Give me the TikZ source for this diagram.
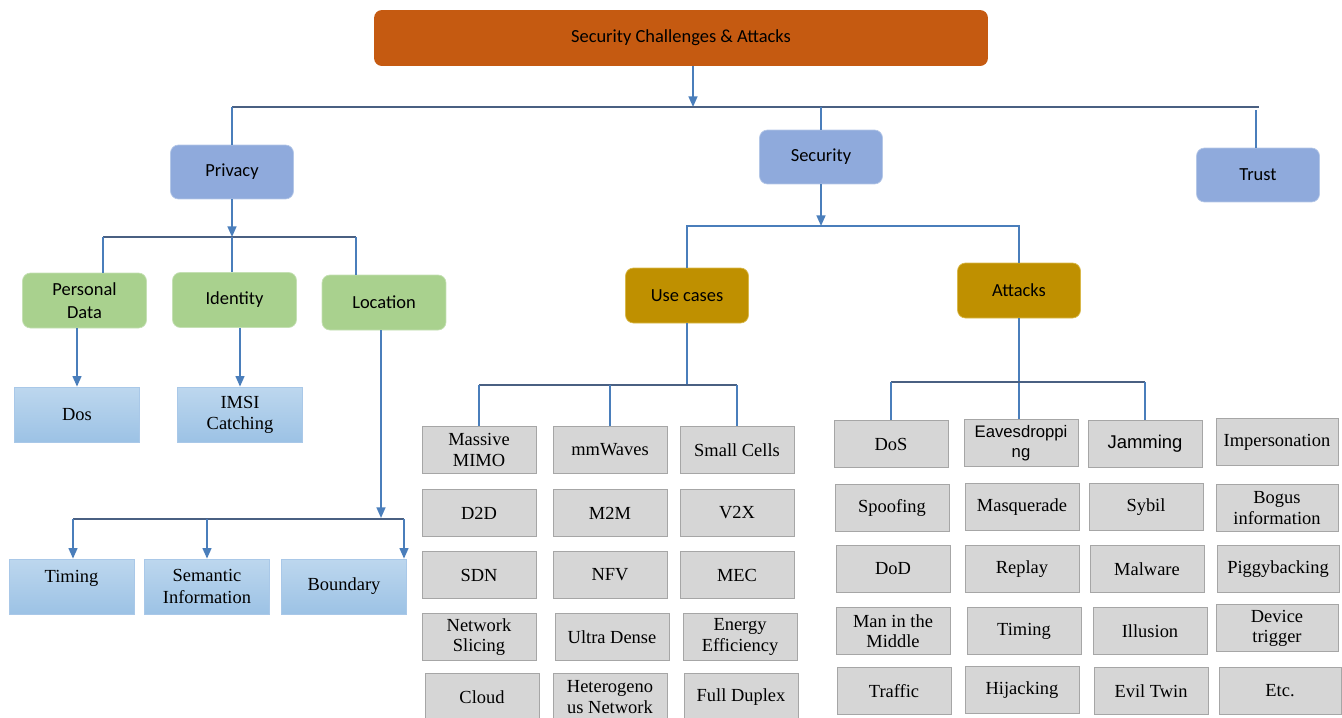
\documentclass[tikz,border=0pt]{standalone}
\usepackage{fontspec}
\setmainfont{Liberation Serif}
\newfontfamily\calib{Carlito}
\newfontfamily\arial{Liberation Sans}
\usetikzlibrary{arrows.meta}
\definecolor{rootorange}{HTML}{C55A11}
\definecolor{catblue}{HTML}{8FAADC}
\definecolor{catedge}{HTML}{B4C7E7}
\definecolor{subgreen}{HTML}{A9D18E}
\definecolor{subedge}{HTML}{C5E0B4}
\definecolor{gold}{HTML}{BF9000}
\definecolor{goldedge}{HTML}{D9B84A}
\definecolor{leaftop}{HTML}{BDD7EE}
\definecolor{leafbot}{HTML}{9CC2E5}
\definecolor{leafedge}{HTML}{A9C8E8}
\definecolor{cellgray}{HTML}{D6D6D6}
\definecolor{celledge}{HTML}{A6A6A6}
\definecolor{linkblue}{HTML}{4A7EBB}
\definecolor{bardark}{HTML}{4A6082}
\tikzset{
  conn/.style={draw=linkblue, line width=1pt},
  arr/.style={conn, -{Triangle[width=5pt,length=6pt]}},
  bar/.style={draw=bardark, line width=1pt},
}
\begin{document}
\begin{tikzpicture}[x=0.02cm, y=-0.02cm,
  every node/.style={align=center, inner sep=1pt},
  head/.style={fill=rootorange, rounded corners=4.5pt, minimum width=12.28cm, minimum height=1.12cm,
    font=\calib\fontsize{10.5}{12}\selectfont},
  cat/.style={fill=catblue, draw=catedge, rounded corners=4.5pt, minimum width=2.46cm, minimum height=1.08cm,
    font=\calib\fontsize{10.5}{12}\selectfont},
  sub/.style={fill=subgreen, draw=subedge, rounded corners=4.5pt, minimum width=2.48cm, minimum height=1.1cm,
    font=\calib\fontsize{10.5}{13}\selectfont},
  goldbox/.style={fill=gold, draw=goldedge, rounded corners=4.5pt, minimum width=2.46cm, minimum height=1.1cm,
    font=\calib\fontsize{10.5}{12}\selectfont},
  leaf/.style={top color=leaftop, bottom color=leafbot, draw=leafedge, minimum width=2.5cm, minimum height=1.1cm,
    font=\fontsize{10.5}{12}\selectfont},
  cell/.style={fill=cellgray, draw=celledge, minimum width=2.28cm, minimum height=0.94cm,
    font=\fontsize{10.5}{11.5}\selectfont},
  widecell/.style={cell, minimum width=2.44cm},
]
\useasboundingbox (0,0) rectangle (1342,717);

% top levels
\node[head] (root) at (681,38) {Security Challenges \& Attacks};
\node[cat] (privacy) at (232,172) {Privacy};
\node[cat] (security) at (821,157) {Security};
\node[cat] (trust) at (1258,175) {Trust};

\coordinate (top) at (693,107);
\coordinate (topR) at (1259,107);
\draw[arr] (root.south -| top) -- (top);
\draw[bar] (privacy.north |- top) -- (topR);
\draw[conn] (privacy.north |- top) -- (privacy.north);
\draw[conn] (security.north |- top) -- (security.north);
\draw[conn] (1256,110) -- (1256,148);

% privacy branch
\node[sub] (pdata) at (84.5,300.5) {Personal\\Data};
\node[sub] (ident) at (234.5,300) {Identity};
\node[sub] (loc) at (384,302.5) {Location};
\node[leaf] (dos) at (77,414.5) {Dos};
\node[leaf] (imsi) at (240,414.5) {IMSI\\Catching};
\node[leaf] (timing) at (71.5,586.5) {Timing\\\mbox{}};
\node[leaf] (semantic) at (207,586.5) {Semantic\\Information};
\node[leaf] (bound) at (344,586.5) {Boundary};

\coordinate (pbar) at (232,237);
\coordinate (pL) at (103,237);
\coordinate (pR) at (356,237);
\draw[arr] (privacy.south) -- (pbar);
\draw[bar] (pL) -- (pR);
\draw[conn] (pL) -- (pL |- pdata.north);
\draw[conn] (pbar) -- (pbar |- ident.north);
\draw[conn] (pR) -- (pR |- loc.north);
\draw[arr] (pdata.south -| dos.north) -- (dos.north);
\draw[arr] (ident.south -| imsi.north) -- (imsi.north);

\coordinate (lL) at (73,519);
\coordinate (lR) at (404,519);
\draw[arr] (381,330) -- (381,518);
\draw[bar] (lL) -- (lR);
\draw[arr] (lL) -- (lL |- timing.north);
\draw[arr] (semantic.north |- lL) -- (semantic.north);
\draw[arr] (lR) -- (lR |- bound.north);

% security branch
\node[goldbox] (usecases) at (687,295.5) {Use cases};
\node[goldbox] (attacks) at (1019,290.5) {Attacks};
\coordinate (sbar) at (821,226);
\draw[arr] (security.south) -- (sbar);
\draw[conn] (usecases.north) -- (usecases.north |- sbar) -- (attacks.north |- sbar) -- (attacks.north);

% use cases grid
\foreach \nm/\cx/\cy/\txt in {
  u11/479/450/{Massive\\MIMO}, u12/610/450/{mmWaves}, u13/737/450/{Small Cells},
  u21/479/513/{D2D}, u22/610/513/{M2M}, u23/737/513/{V2X},
  u31/479/575/{SDN}, u32/610/575/{NFV}, u33/737/575/{MEC},
  u41/479/637/{Network\\Slicing}, u42/612/637/{Ultra Dense}, u43/740/637/{Energy\\Efficiency},
  u51/482/697/{Cloud}, u52/610/697/{Heterogeno\\us Network}, u53/741/697/{Full Duplex}}
  \node[cell] (\nm) at (\cx,\cy) {\txt};

\coordinate (ubar) at (687,385);
\draw[conn] (usecases.south) -- (ubar);
\draw[bar] (u11.north |- ubar) -- (u13.north |- ubar);
\draw[conn] (u11.north |- ubar) -- (u11.north);
\draw[conn] (u12.north |- ubar) -- (u12.north);
\draw[conn] (u13.north |- ubar) -- (u13.north);

% attacks grid
\foreach \nm/\cx/\cy/\txt in {
  a11/891/444/{DoS}, a12/1021/443/{\arial\fontsize{9.5}{11}\selectfont Eavesdroppi\\\arial\fontsize{9.5}{11}\selectfont ng}, a13/1145/444/{\arial Jamming},
  a21/892/508/{Spoofing}, a22/1022/507/{Masquerade}, a23/1146/507/{Sybil},
  a31/893/569/{DoD}, a32/1022/569/{Replay}, a33/1147/569/{Malware},
  a41/893/631/{Man in the\\Middle}, a42/1024/631/{Timing}, a43/1150/631/{Illusion},
  a51/894/691/{Traffic}, a52/1022/690/{Hijacking}, a53/1151/691/{Evil Twin}}
  \node[cell] (\nm) at (\cx,\cy) {\txt};
\foreach \nm/\cx/\cy/\txt in {
  a14/1277/442/{Impersonation}, a24/1277/508/{Bogus\\information},
  a34/1278/569/{Piggybacking}, a44/1277/628/{Device\\trigger}, a54/1280/691/{Etc.}}
  \node[widecell] (\nm) at (\cx,\cy) {\txt};

\coordinate (abar) at (1021,382);
\draw[conn] (attacks.south) -- (attacks.south |- a12.north);
\draw[bar] (a11.north |- abar) -- (a13.north |- abar);
\draw[conn] (a11.north |- abar) -- (a11.north);
\draw[conn] (a13.north |- abar) -- (a13.north);
\end{tikzpicture}
\end{document}
